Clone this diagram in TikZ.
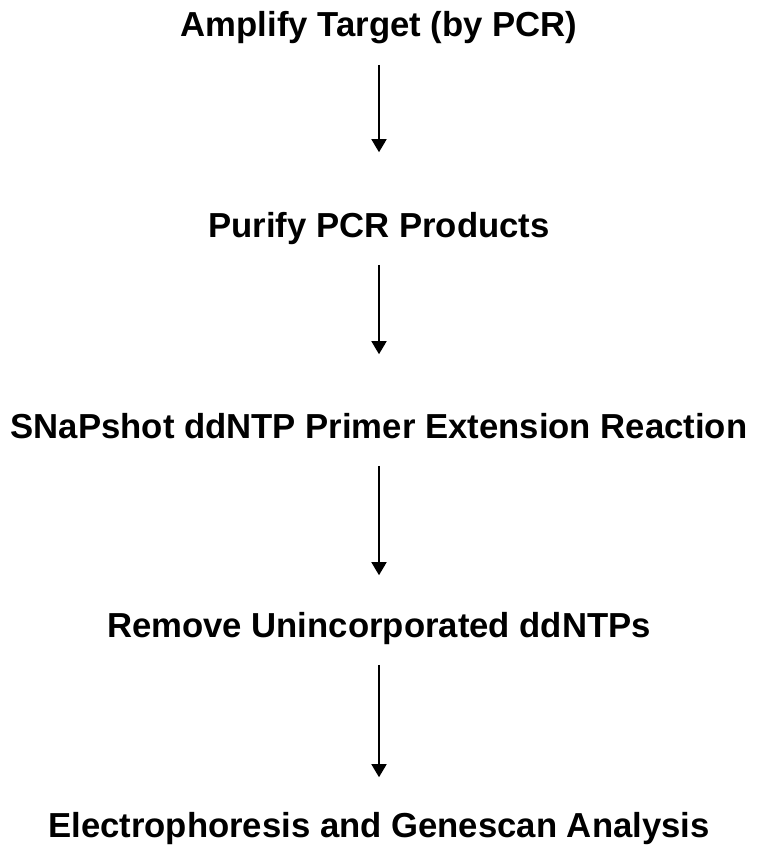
\documentclass[tikz,border=0pt]{standalone}
\usepackage{fontspec}
\setmainfont{Liberation Sans}
\usetikzlibrary{arrows.meta}

\begin{document}
\begin{tikzpicture}[->,>={Triangle[width=15pt,length=13pt]}
	,x=1pt,y=-1pt
	,line width=1.6pt
	,shorten <=20pt]
  \tikzstyle{every node}
  =[font=\fontsize{34.7}{40}\selectfont\bfseries
  ,inner sep=0pt,text height=25pt,text depth=7pt
  ,anchor=base]
  \useasboundingbox (0,0) rectangle (763,850);

  % 5 steps
  \node (amp) at (379,37)  {Amplify Target (by PCR)};
  \node (pur) at (379,237) {Purify PCR Products};
  \node (snp) at (379,438) {SNaPshot ddNTP Primer Extension Reaction};
  \node (rem) at (379,637) {Remove Unincorporated ddNTPs};
  \node (ele) at (379,837) {Electrophoresis and Genescan Analysis};

  % verticals
  \path[shorten >=59pt] (amp) edge (pur);
  \path[shorten >=58pt] (pur) edge (snp);
  \path[shorten >=36pt] (snp) edge (rem);
  \path[shorten >=34pt] (rem) edge (ele);

\end{tikzpicture}
\end{document}
